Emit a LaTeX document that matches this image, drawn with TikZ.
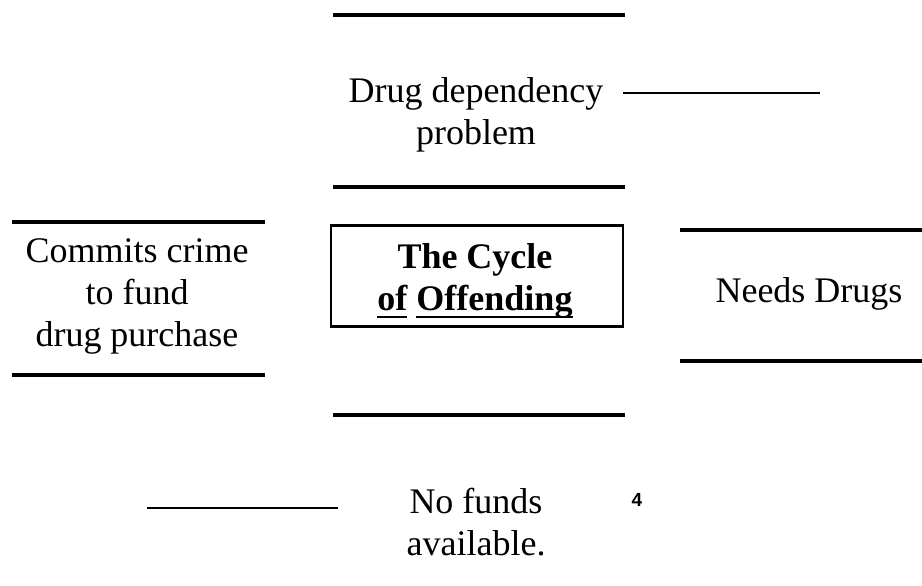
\documentclass[tikz,border=0pt]{standalone}
\usepackage{fontspec}
\setmainfont{Liberation Serif}
\newfontfamily\numfont{Liberation Sans}
\usetikzlibrary{positioning}

\newcommand{\thickul}[1]{\leavevmode\setbox0\hbox{#1}\rlap{\rule[-8pt]{\wd0}{2.6pt}}\box0}

\begin{document}
\begin{tikzpicture}[
  x=1pt, y=-1pt,
  txt/.style={align=center, inner sep=0pt, font=\fontsize{36}{42}\selectfont},
  title/.style={txt, font=\fontsize{36}{42}\selectfont\bfseries},
  rule/.style={line width=3.6pt},
  thinrule/.style={line width=1.6pt},
  frame/.style={draw, line width=2.6pt, minimum width=292pt, minimum height=101pt, inner sep=0pt}
]
\useasboundingbox (0,0) rectangle (922,586);

% --- top ---
\draw[rule] (333,15) -- (625,15);
\node[txt] (drug) at (476,115) {Drug dependency\\problem};
\draw[thinrule] (623,93) -- (820,93);
\draw[rule] (333,187) -- (625,187);

% --- middle row ---
\draw[rule] (12,222) -- (265,222);
\node[txt] (crime) at (137,296) {Commits crime\\to fund\\drug purchase};
\draw[rule] (12,375) -- (265,375);

\node[frame] (cycle) at (477,276) {};
\node[title] (cycletxt) at (475,281) {The Cycle\\\thickul{of}\ \thickul{Offending}};

\draw[rule] (680,230) -- (922,230);
\node[txt, anchor=base] (needs) at (809,302) {Needs Drugs};
\draw[rule] (680,361) -- (922,361);

% --- bottom ---
\draw[rule] (333,415) -- (625,415);
\draw[thinrule] (147,508) -- (338,508);
\node[txt] (funds) at (476,522) {No funds\\available.};
\node[font=\numfont\bfseries\fontsize{19}{19}\selectfont, inner sep=0pt] (page) at (637,500) {4};

\end{tikzpicture}
\end{document}
